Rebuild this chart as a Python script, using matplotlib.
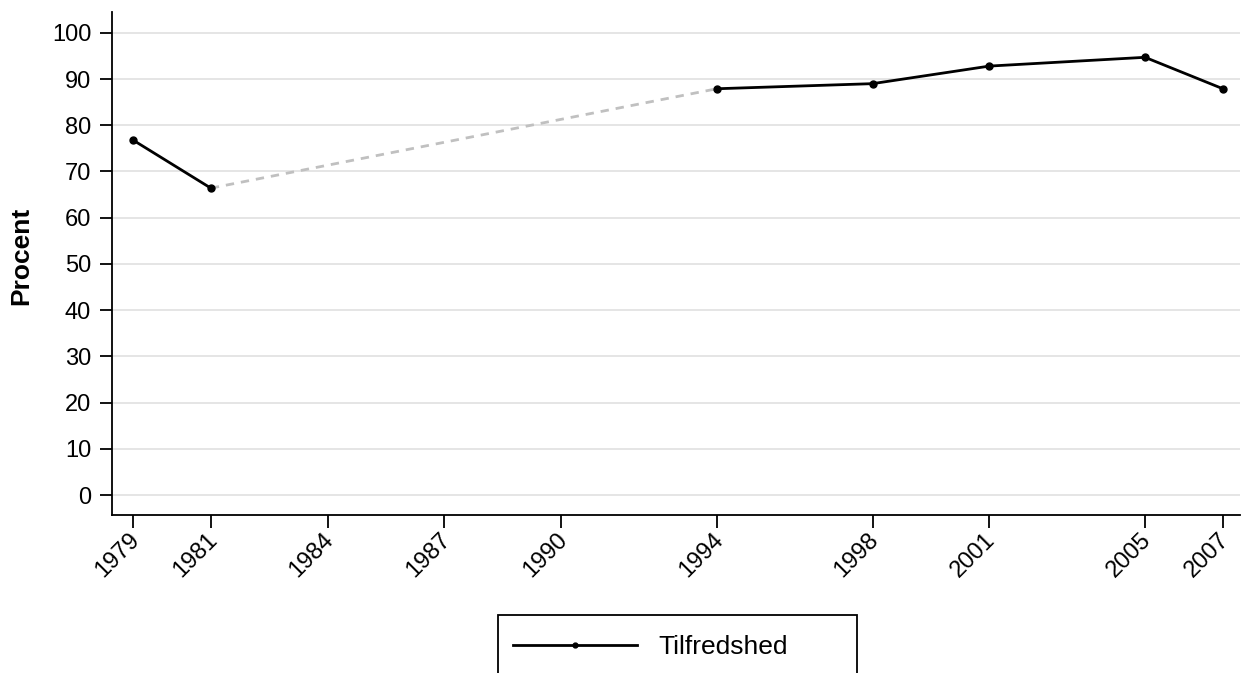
import numpy as np
import matplotlib.pyplot as plt
import matplotlib.transforms as mtransforms
from matplotlib.patches import Rectangle

plt.rcParams['font.family'] = ['Liberation Sans', 'DejaVu Sans']

years = [1979, 1981, 1994, 1998, 2001, 2005, 2007]
tilfredshed = [76.8, 66.4, 87.9, 89.0, 92.8, 94.7, 87.9]
tick_years = [1979, 1981, 1984, 1987, 1990, 1994, 1998, 2001, 2005, 2007]

W, H = 1243, 673
fig = plt.figure(figsize=(W / 100, H / 100), dpi=100)
ax = fig.add_axes([112 / W, 1 - 515 / H, 1128 / W, 503 / H])

# gap between surveys shown as grey dashes
ax.plot(years[1:3], tilfredshed[1:3], color='#c0c0c0', lw=2, ls=(0, (3, 2.5)), zorder=2)
ax.plot(years[:2], tilfredshed[:2], color='black', lw=2, marker='o', ms=5, zorder=3)
ax.plot(years[2:], tilfredshed[2:], color='black', lw=2, marker='o', ms=5, zorder=3,
        label='Tilfredshed')

ax.set_xlim(1978.46, 2007.44)
ax.set_ylim(-4.3, 104.5)
ax.set_yticks(np.arange(0, 101, 10))
ax.set_xticks(tick_years)
ax.set_xticklabels([str(y) for y in tick_years], rotation=45, ha='right',
                   rotation_mode='anchor')
ax.tick_params(axis='both', labelsize=17, length=9, width=1.3, direction='out')
ax.tick_params(axis='y', pad=6)
ax.tick_params(axis='x', pad=3)
shift = mtransforms.ScaledTranslation(-5 / 100, 3 / 100, fig.dpi_scale_trans)
for lab in ax.get_xticklabels():
    lab.set_transform(lab.get_transform() + shift)
ax.yaxis.grid(True, color='#e0e0e0', lw=1.2)
ax.set_axisbelow(True)
for s in ['top', 'right']:
    ax.spines[s].set_visible(False)
for s in ['left', 'bottom']:
    ax.spines[s].set_linewidth(1.3)
ax.set_ylabel('Procent', fontsize=19, fontweight='bold')
ax.yaxis.set_label_coords(-0.070, 0.515)

# legend box (runs off the bottom edge like the original)
fig.patches.append(Rectangle((498 / W, -0.05), 359 / W, 0.05 + 58 / H,
                             transform=fig.transFigure, fill=False,
                             edgecolor='black', lw=1.3))
h, l = ax.get_legend_handles_labels()
fig.legend(h, l, loc='center left', bbox_to_anchor=(513 / W, 1 - 647 / H),
           fontsize=19, frameon=False, handlelength=4.7, handletextpad=0.8,
           borderpad=0, borderaxespad=0, markerscale=0.7)

fig.savefig('out.png', dpi=100)
